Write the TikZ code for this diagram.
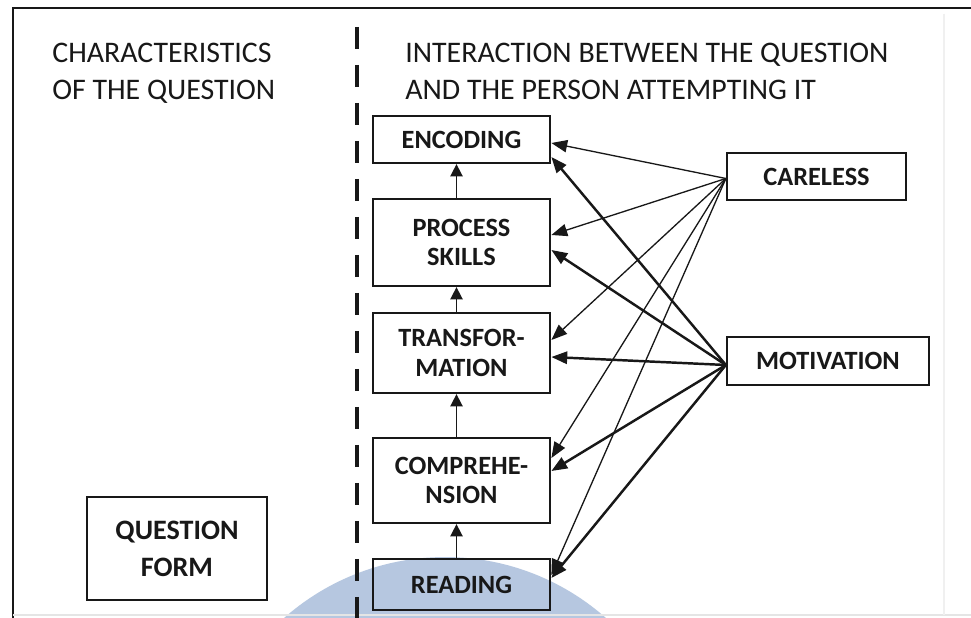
\documentclass[tikz,border=0pt]{standalone}
\usepackage{fontspec}
\setmainfont{Carlito}
\usetikzlibrary{arrows.meta}
\definecolor{ink}{RGB}{24,24,24}
\definecolor{wmark}{RGB}{182,199,224}

\begin{document}
\begin{tikzpicture}[x=0.02cm,y=-0.02cm,
  box/.style={draw=ink,line width=1.3pt,align=center,inner sep=0pt,
    font=\fontsize{15}{17}\selectfont\bfseries,text=ink},
  flow/.style={draw=ink,line width=0.9pt,-{Triangle[length=7pt,width=7pt]}},
  thinlink/.style={draw=ink,line width=0.75pt,-{Triangle[length=9pt,width=7pt]}},
  thicklink/.style={draw=ink,line width=1.4pt,-{Triangle[length=9pt,width=7pt]}},
  head/.style={anchor=north west,align=left,inner sep=0pt,
    font=\fontsize{17}{21}\selectfont,text=ink}]

% canvas
\useasboundingbox (0,0) rectangle (971,618);
\fill[white] (0,0) rectangle (971,618);

% pale round seal behind the bottom of the chain
\begin{scope}
  \clip (0,0) rectangle (971,618);
  \fill[wmark] (445,800) circle (4.86cm);
\end{scope}

% outer frame
\draw[ink,line width=1.6pt] (971,8) -- (13,8) -- (13,618);
\draw[gray!20,line width=0.6pt] (13,615) -- (971,615);
\draw[gray!12,line width=0.6pt] (944,14) -- (944,615);

% column headings
\node[head] (lhead) at (52,43) {CHARACTERISTICS\\OF THE QUESTION};
\node[head] (rhead) at (405,43) {INTERACTION BETWEEN THE QUESTION\\AND THE PERSON ATTEMPTING IT};

% dashed divider
\coordinate (divtop) at (357,27);
\coordinate (divbot) at (357,618);
\draw[ink,line width=2.8pt,dash pattern=on 0.44cm off 0.32cm] (divtop) -- (divbot);

% processing chain
\node[box,minimum width=3.55cm,minimum height=0.94cm] (enc) at (461.5,139.5) {ENCODING};
\node[box,minimum width=3.55cm,minimum height=1.74cm] (proc) at (461.5,242.5) {PROCESS\\SKILLS};
\node[box,minimum width=3.55cm,minimum height=1.60cm] (trans) at (461.5,353) {TRANSFOR-\\MATION};
\node[box,minimum width=3.55cm,minimum height=1.70cm] (comp) at (461.5,480.5) {COMPREHE-\\NSION};
\node[box,minimum width=3.55cm,minimum height=1.02cm,text depth=-0.1cm] (read) at (461.5,584.5) {READING};

% person factors
\node[box,minimum width=3.58cm,minimum height=0.94cm] (care) at (816.5,176.5) {CARELESS};
\node[box,minimum width=4.04cm,minimum height=0.96cm] (mot) at (828,361) {MOTIVATION};

% question characteristic
\node[box,font=\fontsize{16}{21}\selectfont\bfseries,minimum width=3.6cm,minimum height=2.06cm] (qf) at (177,548.5) {QUESTION\\FORM};

% upward flow
\draw[flow] ([xshift=-0.1cm]read.north) -- ([xshift=-0.1cm]comp.south);
\draw[flow] ([xshift=-0.1cm]comp.north) -- ([xshift=-0.1cm]trans.south);
\draw[flow] ([xshift=-0.1cm]trans.north) -- ([xshift=-0.1cm]proc.south);
\draw[flow] ([xshift=-0.1cm]proc.north) -- ([xshift=-0.1cm]enc.south);

% carelessness acts on every stage
\coordinate (cfan) at ([yshift=-0.04cm]care.west);
\draw[thinlink] (cfan) -- ([yshift=-0.07cm]enc.east);
\draw[thinlink] (cfan) -- ([yshift=0.15cm]proc.east);
\draw[thinlink] (cfan) -- ([yshift=0.26cm]trans.east);
\draw[thinlink] (cfan) -- ([yshift=0.45cm]comp.east);
\draw[thinlink] (cfan) -- ([yshift=0.19cm]read.east);

% motivation acts on every stage
\coordinate (mfan) at ([yshift=-0.08cm]mot.west);
\draw[thicklink] (mfan) -- ([yshift=-0.35cm]enc.east);
\draw[thicklink] (mfan) -- ([yshift=-0.15cm]proc.east);
\draw[thicklink] (mfan) -- ([yshift=-0.08cm]trans.east);
\draw[thicklink] (mfan) -- ([yshift=0.19cm]comp.east);
\draw[thicklink] (mfan) -- ([yshift=0.13cm]read.east);
\end{tikzpicture}
\end{document}
